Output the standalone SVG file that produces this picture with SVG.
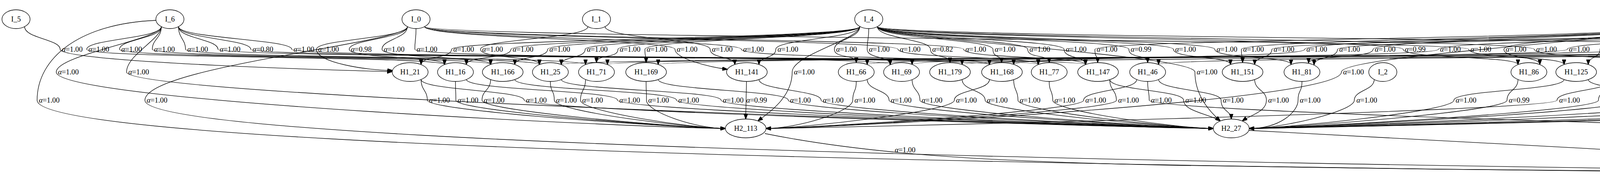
<svg xmlns="http://www.w3.org/2000/svg" width="6007" height="475" viewBox="0 0 6007 475">
<style>
.n ellipse,.n rect{fill:#fff;stroke:#000;stroke-width:1.33}
.n path{fill:none;stroke:#000;stroke-width:1.33}
text{font-family:"Liberation Serif","Times New Roman",serif;font-size:18.67px;text-anchor:middle;fill:#000}
.e path{fill:none;stroke:#000;stroke-width:1.33;marker-end:url(#ah)}
.a{font-style:italic}
</style>
<defs>
<marker id="ah" markerUnits="userSpaceOnUse" markerWidth="14" markerHeight="10" viewBox="0 0 14 10" refX="13" refY="5" orient="auto"><path d="M0,0 L14,5 L0,10 z" fill="#000" stroke="#000" stroke-width="1"/></marker>
</defs>
<rect x="0" y="0" width="6007" height="475" fill="#fff"/>
<g id="connectors" class="e">
<path d="M63,68 C63,98 154,100 154,126 C154,160 940,182 1004,183"/>
<path d="M413,68 C413,98 222,100 222,126 C222,150 1138,143 1138,165"/>
<path d="M413,68 C413,98 306,100 306,126 C306,150 1256,143 1256,165"/>
<path d="M413,68 C413,98 390,100 390,126 C390,150 1381,143 1381,165"/>
<path d="M457,68 C457,98 475,100 475,126 C475,150 1499,143 1499,165"/>
<path d="M457,68 C457,98 558,100 558,126 C558,150 2533,143 2533,165"/>
<path d="M457,68 C457,98 642,100 642,126 C642,150 2658,143 2658,165"/>
<path d="M457,68 C457,98 747,100 747,126 C747,150 2779,143 2779,165"/>
<path d="M1043,68 C1043,98 810,100 810,126 C810,160 940,180 1005,180"/>
<path d="M1043,68 C1043,98 894,100 894,126 C894,150 1138,143 1138,165"/>
<path d="M1043,68 C1043,98 978,100 978,126 C978,150 1256,143 1256,165"/>
<path d="M1065,73 C1065,103 1062,100 1062,126 C1062,150 2279,143 2279,165"/>
<path d="M2201,68 C2201,98 1156,100 1156,126 C1156,150 1078,143 1078,165"/>
<path d="M1505,68 C1505,98 1230,100 1230,126 C1230,150 1381,143 1381,165"/>
<path d="M2201,68 C2201,98 1308,100 1308,126 C1308,150 1194,143 1194,165"/>
<path d="M2201,68 C2201,98 1402,100 1402,126 C1402,150 1318,143 1318,165"/>
<path d="M2201,68 C2201,98 1498,100 1498,126 C1498,150 1437,143 1437,165"/>
<path d="M2201,68 C2201,98 1582,100 1582,126 C1582,150 1527,138 1527,160"/>
<path d="M2201,68 C2201,98 1651,100 1651,126 C1651,150 1654,138 1654,160"/>
<path d="M1087,68 C1087,98 1728,100 1728,126 C1728,150 1820,172 1862,177"/>
<path d="M1549,68 C1549,98 1818,100 1818,126 C1818,150 1881,143 1881,165"/>
<path d="M1087,68 C1087,98 1898,100 1898,126 C1898,150 2533,143 2533,165"/>
<path d="M2201,68 C2201,98 1986,100 1986,126 C1986,150 1943,143 1943,165"/>
<path d="M2201,68 C2201,98 2136,100 2136,126 C2136,150 2192,138 2192,160"/>
<path d="M2224,73 C2224,103 2220,100 2220,126 C2220,150 2279,143 2279,165"/>
<path d="M1087,68 C1087,98 2299,100 2299,126 C2299,150 2658,143 2658,165"/>
<path d="M2246,68 C2246,98 2382,100 2382,126 C2382,150 2432,138 2432,160"/>
<path d="M1087,68 C1087,98 2467,100 2467,126 C2467,150 2779,143 2779,165"/>
<path d="M2246,68 C2246,98 2542,100 2542,126 C2542,150 2564,138 2564,160"/>
<path d="M2246,68 C2246,98 2631,100 2631,126 C2631,150 2686,138 2686,160"/>
<path d="M2246,68 C2246,98 2724,100 2724,126 C2724,150 2779,143 2779,165"/>
<path d="M4251,68 C4251,98 2803,100 2803,126 C2803,150 2810,138 2810,160"/>
<path d="M2246,68 C2246,98 2890,100 2890,126 C2890,150 2938,138 2938,160"/>
<path d="M2246,68 C2246,98 3004,100 3004,126 C3004,150 3150,143 3150,165"/>
<path d="M2246,68 C2246,98 3110,100 3110,126 C3110,150 3305,143 3305,165"/>
<path d="M4251,68 C4251,98 3178,100 3178,126 C3178,150 3181,138 3181,160"/>
<path d="M4746,68 C4746,98 3256,100 3256,126 C3256,150 3212,143 3212,165"/>
<path d="M4251,68 C4251,98 3340,100 3340,126 C3340,150 2595,143 2595,165"/>
<path d="M4746,68 C4746,98 3424,100 3424,126 C3424,150 3364,144 3364,166"/>
<path d="M4251,68 C4251,98 3515,100 3515,126 C3515,150 3350,140 3350,161"/>
<path d="M2246,68 C2246,98 3592,100 3592,126 C3592,150 3886,143 3886,165"/>
<path d="M4746,68 C4746,98 3682,100 3682,126 C3682,150 2335,143 2335,165"/>
<path d="M1087,68 C1087,98 3760,100 3760,126 C3760,150 4004,143 4004,165"/>
<path d="M4251,68 C4251,98 3850,100 3850,126 C3850,150 3942,143 3942,165"/>
<path d="M2246,68 C2246,98 3928,100 3928,126 C3928,150 4247,143 4247,165"/>
<path d="M4746,68 C4746,98 4012,100 4012,126 C4012,150 2220,143 2220,165"/>
<path d="M4251,68 C4251,98 4096,100 4096,126 C4096,150 4066,143 4066,165"/>
<path d="M4746,68 C4746,98 4180,100 4180,126 C4180,150 1555,143 1555,165"/>
<path d="M4273,73 C4273,103 4254,100 4254,126 C4254,150 4180,141 4180,163"/>
<path d="M4746,68 C4746,98 4348,100 4348,126 C4348,150 4309,143 4309,165"/>
<path d="M4295,68 C4295,98 4415,100 4415,126 C4415,150 4399,138 4399,160"/>
<path d="M4746,68 C4746,98 4550,100 4550,126 C4550,150 1437,143 1437,165"/>
<path d="M4746,68 C4746,98 4639,100 4639,126 C4639,150 1685,143 1685,165"/>
<path d="M2246,68 C2246,98 4708,100 4708,126 C4708,150 4726,138 4726,160"/>
<path d="M4768,73 C4768,103 4780,100 4780,126 C4780,150 2966,143 2966,165"/>
<path d="M4790,68 C4790,98 4842,100 4842,126 C4842,150 2463,143 2463,165"/>
<path d="M4790,68 C4790,98 4952,100 4952,126 C4952,150 4192,145 4192,167"/>
<path d="M4790,68 C4790,98 5040,100 5040,126 C5040,160 4520,178 4446,180"/>
<path d="M4790,68 C4790,98 5116,100 5116,126 C5116,160 4850,182 4779,182"/>
<path d="M4295,68 C4295,98 5196,100 5196,126 C5196,150 5231,138 5231,160"/>
<path d="M4790,68 C4790,98 5285,100 5285,126 C5285,150 5259,143 5259,165"/>
<path d="M4790,68 C4790,98 5351,100 5351,126 C5351,150 5348,138 5348,160"/>
<path d="M4790,68 C4790,98 5435,100 5435,126 C5435,150 5473,138 5473,160"/>
<path d="M4790,68 C4790,98 5523,100 5523,126 C5523,175 5483,205 5483,237"/>
<path d="M4790,68 C4790,98 5594,100 5594,126 C5594,175 5590,200 5590,233"/>
<path d="M4790,68 C4790,98 5668,100 5668,126 C5668,175 5695,200 5695,232"/>
<path d="M4790,68 C4790,98 5750,100 5750,126 C5750,175 5802,200 5802,232"/>
<path d="M413,68 C413,100 144,140 144,184 C144,260 1700,328 1857,328"/>
<path d="M413,68 C413,100 324,140 324,184 C324,250 2950,328 3106,328"/>
<path d="M2201,68 C2201,100 2028,140 2028,184 C2028,250 1965,290 1940,309"/>
<path d="M2246,68 C2246,100 3059,140 3059,184 C3059,250 3105,292 3124,309"/>
<path d="M4251,68 C4251,100 3434,140 3434,184 C3434,260 2100,328 1961,328"/>
<path d="M400,52 C200,60 95,150 95,256 C95,420 4900,445 5171,445"/>
<path d="M1043,68 C1043,110 371,170 371,256 C371,400 4900,440 5171,441"/>
<path d="M1078,203 C1078,231 1094,230 1094,256 C1094,285 1777,328 1857,328"/>
<path d="M1166,208 C1166,236 1167,230 1167,256 C1167,285 1777,328 1857,328"/>
<path d="M1256,203 C1256,231 1234,230 1234,256 C1234,285 1777,328 1857,328"/>
<path d="M1078,203 C1078,231 1342,230 1342,256 C1342,285 3026,328 3106,328"/>
<path d="M1409,208 C1409,236 1419,230 1419,256 C1419,285 1777,328 1857,328"/>
<path d="M1499,203 C1499,231 1486,230 1486,256 C1486,285 1777,328 1857,328"/>
<path d="M1194,203 C1194,231 1581,230 1581,256 C1581,285 3026,328 3106,328"/>
<path d="M1654,208 C1654,236 1655,230 1655,256 C1655,285 1777,328 1857,328"/>
<path d="M1318,203 C1318,231 1732,230 1732,256 C1732,285 3026,328 3106,328"/>
<path d="M1437,203 C1437,231 1846,230 1846,256 C1846,285 3026,328 3106,328"/>
<path d="M1911,208 L1909,304"/>
<path d="M1685,203 C1685,231 2018,230 2018,256 C2018,285 3026,328 3106,328"/>
<path d="M1943,203 C1943,231 2102,230 2102,256 C2102,285 3026,328 3106,328"/>
<path d="M2192,208 C2192,236 2183,230 2183,256 C2183,285 2041,328 1961,328"/>
<path d="M2220,203 C2220,231 2276,230 2276,256 C2276,285 3026,328 3106,328"/>
<path d="M2335,203 C2335,231 2355,230 2355,256 C2355,285 3026,328 3106,328"/>
<path d="M2533,203 C2533,231 2443,230 2443,256 C2443,285 2041,328 1961,328"/>
<path d="M2463,203 C2463,231 2522,230 2522,256 C2522,285 3026,328 3106,328"/>
<path d="M2595,203 C2595,231 2606,230 2606,256 C2606,285 3026,328 3106,328"/>
<path d="M2686,208 C2686,236 2695,230 2695,256 C2695,285 3026,328 3106,328"/>
<path d="M2910,203 C2910,231 2774,230 2774,256 C2774,285 2041,328 1961,328"/>
<path d="M2841,203 C2841,231 2858,230 2858,256 C2858,285 2041,328 1961,328"/>
<path d="M2938,208 C2938,236 2942,230 2942,256 C2942,285 4585,328 4665,328"/>
<path d="M2841,203 C2841,231 3030,230 3030,256 C3030,285 3100,292 3124,309"/>
<path d="M2966,203 C2966,231 3126,230 3126,256 C3126,285 3152,282 3152,304"/>
<path d="M3212,203 C3212,231 3242,230 3242,256 C3242,285 3205,292 3180,309"/>
<path d="M3333,208 C3333,236 3323,230 3323,256 C3323,285 3278,328 3198,328"/>
<path d="M3518,203 C3518,231 3467,230 3467,256 C3467,285 3278,328 3198,328"/>
<path d="M4004,203 C4004,231 3722,230 3722,256 C3722,285 3278,328 3198,328"/>
<path d="M3886,203 C3886,231 3858,230 3858,256 C3858,285 3278,328 3198,328"/>
<path d="M4129,203 C4129,231 3986,230 3986,256 C3986,285 2041,328 1961,328"/>
<path d="M4129,203 C4129,231 4092,230 4092,256 C4092,285 3278,328 3198,328"/>
<path d="M4247,203 C4247,231 4175,230 4175,256 C4175,285 3278,328 3198,328"/>
<path d="M4066,203 C4066,231 4311,230 4311,256 C4311,285 4585,328 4665,328"/>
<path d="M4399,208 C4399,236 4390,230 4390,256 C4390,285 3278,328 3198,328"/>
<path d="M4695,203 C4695,231 4606,230 4606,256 C4606,285 3278,328 3198,328"/>
<path d="M5203,203 C5203,231 4952,230 4952,256 C4952,285 3278,328 3198,328"/>
<path d="M5320,203 C5320,231 5167,230 5167,256 C5167,285 3278,328 3198,328"/>
<path d="M5231,208 L5231,304"/>
<path d="M5442,203 C5442,231 5339,230 5339,256 C5339,285 3278,328 3198,328"/>
<path d="M4790,68 C4790,100 5876,120 5876,256 C5876,380 5400,447 5289,446"/>
<path d="M5430,279 C5391,315 5320,370 5262,422"/>
<path d="M5543,275 C5530,295 5515,305 5515,328 C5515,370 5350,420 5283,432"/>
<path d="M5662,275 C5650,295 5639,310 5639,328 C5639,390 5400,435 5288,438"/>
<path d="M5776,275 C5765,295 5760,310 5760,328 C5760,400 5420,443 5289,443"/>
<path d="M1958,341 C2250,400 2600,414 3000,422 C3800,436 4900,445 5171,446"/>
<path d="M3197,333 C3800,360 4700,420 5172,441"/>
<path d="M4753,340 L5174,434"/>
<path d="M5231,352 L5231,421"/>
<path d="M5953,352 C5930,385 5915,400 5870,410 C5750,428 5450,446 5289,449"/>
</g>
<g id="edge-labels">
<text x="185" y="132"><tspan class="a">α</tspan>=1.00</text>
<text x="253" y="132"><tspan class="a">α</tspan>=1.00</text>
<text x="337" y="132"><tspan class="a">α</tspan>=1.00</text>
<text x="421" y="132"><tspan class="a">α</tspan>=1.00</text>
<text x="506" y="132"><tspan class="a">α</tspan>=1.00</text>
<text x="589" y="132"><tspan class="a">α</tspan>=1.00</text>
<text x="673" y="132"><tspan class="a">α</tspan>=0.80</text>
<text x="778" y="132"><tspan class="a">α</tspan>=1.00</text>
<text x="841" y="132"><tspan class="a">α</tspan>=1.00</text>
<text x="925" y="132"><tspan class="a">α</tspan>=0.98</text>
<text x="1009" y="132"><tspan class="a">α</tspan>=1.00</text>
<text x="1093" y="132"><tspan class="a">α</tspan>=1.00</text>
<text x="1187" y="132"><tspan class="a">α</tspan>=1.00</text>
<text x="1261" y="132"><tspan class="a">α</tspan>=1.00</text>
<text x="1339" y="132"><tspan class="a">α</tspan>=1.00</text>
<text x="1433" y="132"><tspan class="a">α</tspan>=1.00</text>
<text x="1529" y="132"><tspan class="a">α</tspan>=1.00</text>
<text x="1613" y="132"><tspan class="a">α</tspan>=1.00</text>
<text x="1682" y="132"><tspan class="a">α</tspan>=1.00</text>
<text x="1759" y="132"><tspan class="a">α</tspan>=1.00</text>
<text x="1849" y="132"><tspan class="a">α</tspan>=1.00</text>
<text x="1929" y="132"><tspan class="a">α</tspan>=1.00</text>
<text x="2017" y="132"><tspan class="a">α</tspan>=1.00</text>
<text x="2167" y="132"><tspan class="a">α</tspan>=1.00</text>
<text x="2251" y="132"><tspan class="a">α</tspan>=1.00</text>
<text x="2330" y="132"><tspan class="a">α</tspan>=1.00</text>
<text x="2413" y="132"><tspan class="a">α</tspan>=0.82</text>
<text x="2498" y="132"><tspan class="a">α</tspan>=1.00</text>
<text x="2573" y="132"><tspan class="a">α</tspan>=1.00</text>
<text x="2662" y="132"><tspan class="a">α</tspan>=1.00</text>
<text x="2755" y="132"><tspan class="a">α</tspan>=1.00</text>
<text x="2834" y="132"><tspan class="a">α</tspan>=1.00</text>
<text x="2921" y="132"><tspan class="a">α</tspan>=0.99</text>
<text x="3035" y="132"><tspan class="a">α</tspan>=1.00</text>
<text x="3141" y="132"><tspan class="a">α</tspan>=1.00</text>
<text x="3209" y="132"><tspan class="a">α</tspan>=1.00</text>
<text x="3287" y="132"><tspan class="a">α</tspan>=1.00</text>
<text x="3371" y="132"><tspan class="a">α</tspan>=1.00</text>
<text x="3455" y="132"><tspan class="a">α</tspan>=1.00</text>
<text x="3546" y="132"><tspan class="a">α</tspan>=1.00</text>
<text x="3623" y="132"><tspan class="a">α</tspan>=0.99</text>
<text x="3713" y="132"><tspan class="a">α</tspan>=1.00</text>
<text x="3791" y="132"><tspan class="a">α</tspan>=1.00</text>
<text x="3881" y="132"><tspan class="a">α</tspan>=1.00</text>
<text x="3959" y="132"><tspan class="a">α</tspan>=1.00</text>
<text x="4043" y="132"><tspan class="a">α</tspan>=1.00</text>
<text x="4127" y="132"><tspan class="a">α</tspan>=1.00</text>
<text x="4211" y="132"><tspan class="a">α</tspan>=1.00</text>
<text x="4285" y="132"><tspan class="a">α</tspan>=1.00</text>
<text x="4379" y="132"><tspan class="a">α</tspan>=1.00</text>
<text x="4446" y="132"><tspan class="a">α</tspan>=1.00</text>
<text x="4581" y="132"><tspan class="a">α</tspan>=1.00</text>
<text x="4670" y="132"><tspan class="a">α</tspan>=1.00</text>
<text x="4739" y="132"><tspan class="a">α</tspan>=1.00</text>
<text x="4811" y="132"><tspan class="a">α</tspan>=1.00</text>
<text x="4873" y="132"><tspan class="a">α</tspan>=1.00</text>
<text x="4984" y="132"><tspan class="a">α</tspan>=1.00</text>
<text x="5071" y="132"><tspan class="a">α</tspan>=1.00</text>
<text x="5147" y="132"><tspan class="a">α</tspan>=1.00</text>
<text x="5227" y="132"><tspan class="a">α</tspan>=1.00</text>
<text x="5316" y="132"><tspan class="a">α</tspan>=1.00</text>
<text x="5382" y="132"><tspan class="a">α</tspan>=1.00</text>
<text x="5466" y="132"><tspan class="a">α</tspan>=0.99</text>
<text x="5554" y="132"><tspan class="a">α</tspan>=1.00</text>
<text x="5625" y="132"><tspan class="a">α</tspan>=0.74</text>
<text x="5699" y="132"><tspan class="a">α</tspan>=1.00</text>
<text x="5781" y="132"><tspan class="a">α</tspan>=0.98</text>
<text x="175" y="190"><tspan class="a">α</tspan>=1.00</text>
<text x="355" y="190"><tspan class="a">α</tspan>=1.00</text>
<text x="2059" y="190"><tspan class="a">α</tspan>=1.00</text>
<text x="3090" y="190"><tspan class="a">α</tspan>=1.00</text>
<text x="3465" y="190"><tspan class="a">α</tspan>=1.00</text>
<text x="126" y="262"><tspan class="a">α</tspan>=1.00</text>
<text x="402" y="262"><tspan class="a">α</tspan>=1.00</text>
<text x="1125" y="262"><tspan class="a">α</tspan>=1.00</text>
<text x="1198" y="262"><tspan class="a">α</tspan>=1.00</text>
<text x="1265" y="262"><tspan class="a">α</tspan>=1.00</text>
<text x="1373" y="262"><tspan class="a">α</tspan>=1.00</text>
<text x="1450" y="262"><tspan class="a">α</tspan>=1.00</text>
<text x="1517" y="262"><tspan class="a">α</tspan>=1.00</text>
<text x="1612" y="262"><tspan class="a">α</tspan>=1.00</text>
<text x="1686" y="262"><tspan class="a">α</tspan>=1.00</text>
<text x="1763" y="262"><tspan class="a">α</tspan>=1.00</text>
<text x="1877" y="262"><tspan class="a">α</tspan>=1.00</text>
<text x="1937" y="262"><tspan class="a">α</tspan>=0.99</text>
<text x="2049" y="262"><tspan class="a">α</tspan>=1.00</text>
<text x="2133" y="262"><tspan class="a">α</tspan>=1.00</text>
<text x="2214" y="262"><tspan class="a">α</tspan>=1.00</text>
<text x="2307" y="262"><tspan class="a">α</tspan>=1.00</text>
<text x="2386" y="262"><tspan class="a">α</tspan>=1.00</text>
<text x="2474" y="262"><tspan class="a">α</tspan>=1.00</text>
<text x="2553" y="262"><tspan class="a">α</tspan>=1.00</text>
<text x="2637" y="262"><tspan class="a">α</tspan>=1.00</text>
<text x="2726" y="262"><tspan class="a">α</tspan>=1.00</text>
<text x="2805" y="262"><tspan class="a">α</tspan>=1.00</text>
<text x="2889" y="262"><tspan class="a">α</tspan>=1.00</text>
<text x="2973" y="262"><tspan class="a">α</tspan>=1.00</text>
<text x="3061" y="262"><tspan class="a">α</tspan>=1.00</text>
<text x="3157" y="262"><tspan class="a">α</tspan>=1.00</text>
<text x="3273" y="262"><tspan class="a">α</tspan>=1.00</text>
<text x="3354" y="262"><tspan class="a">α</tspan>=1.00</text>
<text x="3499" y="262"><tspan class="a">α</tspan>=1.00</text>
<text x="3753" y="262"><tspan class="a">α</tspan>=1.00</text>
<text x="3889" y="262"><tspan class="a">α</tspan>=0.99</text>
<text x="4018" y="262"><tspan class="a">α</tspan>=1.00</text>
<text x="4123" y="262"><tspan class="a">α</tspan>=1.00</text>
<text x="4206" y="262"><tspan class="a">α</tspan>=1.00</text>
<text x="4342" y="262"><tspan class="a">α</tspan>=1.00</text>
<text x="4421" y="262"><tspan class="a">α</tspan>=1.00</text>
<text x="4637" y="262"><tspan class="a">α</tspan>=1.00</text>
<text x="4984" y="262"><tspan class="a">α</tspan>=1.00</text>
<text x="5198" y="262"><tspan class="a">α</tspan>=1.00</text>
<text x="5257" y="262"><tspan class="a">α</tspan>=0.93</text>
<text x="5370" y="262"><tspan class="a">α</tspan>=1.00</text>
<text x="5907" y="262"><tspan class="a">α</tspan>=1.00</text>
<text x="5422" y="334"><tspan class="a">α</tspan>=0.95</text>
<text x="5546" y="334"><tspan class="a">α</tspan>=1.00</text>
<text x="5670" y="334"><tspan class="a">α</tspan>=1.00</text>
<text x="5791" y="334"><tspan class="a">α</tspan>=1.00</text>
<text x="2317" y="389"><tspan class="a">α</tspan>=1.00</text>
<text x="4341" y="392"><tspan class="a">α</tspan>=1.00</text>
<text x="5027" y="392"><tspan class="a">α</tspan>=1.00</text>
<text x="5257" y="392"><tspan class="a">α</tspan>=1.00</text>
<text x="5959" y="392"><tspan class="a">α</tspan>=1.00</text>
</g>
<g id="I_5" class="n"><ellipse cx="41" cy="49" rx="36" ry="24"/><text x="41" y="55">I_5</text></g>
<g id="I_6" class="n"><ellipse cx="435" cy="49" rx="36" ry="24"/><text x="435" y="55">I_6</text></g>
<g id="I_0" class="n"><ellipse cx="1065" cy="49" rx="36" ry="24"/><text x="1065" y="55">I_0</text></g>
<g id="I_1" class="n"><ellipse cx="1527" cy="49" rx="36" ry="24"/><text x="1527" y="55">I_1</text></g>
<g id="I_4" class="n"><ellipse cx="2224" cy="49" rx="36" ry="24"/><text x="2224" y="55">I_4</text></g>
<g id="I_7" class="n"><ellipse cx="4273" cy="49" rx="36" ry="24"/><text x="4273" y="55">I_7</text></g>
<g id="I_3" class="n"><ellipse cx="4768" cy="49" rx="36" ry="24"/><text x="4768" y="55">I_3</text></g>
<g id="all_paths" class="n"><rect x="4828" y="5" width="88" height="88" style="stroke:#444"/><path d="M4828,20 L4843,5 M4901,5 L4916,20 M4828,78 L4843,93 M4901,93 L4916,78" style="stroke:#444"/><text x="4872" y="55">All paths</text></g>
<g id="H1_21" class="n"><ellipse cx="1050" cy="184" rx="46" ry="24"/><text x="1050" y="190">H1_21</text></g>
<g id="H1_16" class="n"><ellipse cx="1166" cy="184" rx="46" ry="24"/><text x="1166" y="190">H1_16</text></g>
<g id="H1_166" class="n"><ellipse cx="1287" cy="184" rx="52" ry="24"/><text x="1287" y="190">H1_166</text></g>
<g id="H1_25" class="n"><ellipse cx="1409" cy="184" rx="46" ry="24"/><text x="1409" y="190">H1_25</text></g>
<g id="H1_71" class="n"><ellipse cx="1527" cy="184" rx="46" ry="24"/><text x="1527" y="190">H1_71</text></g>
<g id="H1_169" class="n"><ellipse cx="1654" cy="184" rx="52" ry="24"/><text x="1654" y="190">H1_169</text></g>
<g id="H1_141" class="n"><ellipse cx="1912" cy="184" rx="52" ry="24"/><text x="1912" y="190">H1_141</text></g>
<g id="H1_66" class="n"><ellipse cx="2192" cy="184" rx="46" ry="24"/><text x="2192" y="190">H1_66</text></g>
<g id="H1_69" class="n"><ellipse cx="2308" cy="184" rx="46" ry="24"/><text x="2308" y="190">H1_69</text></g>
<g id="H1_179" class="n"><ellipse cx="2432" cy="184" rx="52" ry="24"/><text x="2432" y="190">H1_179</text></g>
<g id="H1_168" class="n"><ellipse cx="2565" cy="184" rx="52" ry="24"/><text x="2565" y="190">H1_168</text></g>
<g id="H1_77" class="n"><ellipse cx="2686" cy="184" rx="46" ry="24"/><text x="2686" y="190">H1_77</text></g>
<g id="H1_147" class="n"><ellipse cx="2811" cy="184" rx="52" ry="24"/><text x="2811" y="190">H1_147</text></g>
<g id="H1_46" class="n"><ellipse cx="2938" cy="184" rx="46" ry="24"/><text x="2938" y="190">H1_46</text></g>
<g id="H1_151" class="n"><ellipse cx="3181" cy="184" rx="52" ry="24"/><text x="3181" y="190">H1_151</text></g>
<g id="H1_81" class="n"><ellipse cx="3333" cy="184" rx="46" ry="24"/><text x="3333" y="190">H1_81</text></g>
<g id="I_2" class="n"><ellipse cx="3540" cy="184" rx="36" ry="24"/><text x="3540" y="190">I_2</text></g>
<g id="H1_86" class="n"><ellipse cx="3914" cy="184" rx="46" ry="24"/><text x="3914" y="190">H1_86</text></g>
<g id="H1_125" class="n"><ellipse cx="4035" cy="184" rx="52" ry="24"/><text x="4035" y="190">H1_125</text></g>
<g id="H1_57" class="n"><ellipse cx="4157" cy="184" rx="46" ry="24"/><text x="4157" y="190">H1_57</text></g>
<g id="H1_130" class="n"><ellipse cx="4279" cy="184" rx="52" ry="24"/><text x="4279" y="190">H1_130</text></g>
<g id="H1_13" class="n"><ellipse cx="4400" cy="184" rx="46" ry="24"/><text x="4400" y="190">H1_13</text></g>
<g id="H1_167" class="n"><ellipse cx="4726" cy="184" rx="52" ry="24"/><text x="4726" y="190">H1_167</text></g>
<g id="H1_35" class="n"><ellipse cx="5231" cy="184" rx="46" ry="24"/><text x="5231" y="190">H1_35</text></g>
<g id="H1_95" class="n"><ellipse cx="5349" cy="184" rx="46" ry="24"/><text x="5349" y="190">H1_95</text></g>
<g id="H1_149" class="n"><ellipse cx="5475" cy="184" rx="52" ry="24"/><text x="5475" y="190">H1_149</text></g>
<g id="H2_72" class="n"><ellipse cx="5455" cy="256" rx="46" ry="24"/><text x="5455" y="262">H2_72</text></g>
<g id="H2_130" class="n"><ellipse cx="5574" cy="256" rx="52" ry="24"/><text x="5574" y="262">H2_130</text></g>
<g id="H2_155" class="n"><ellipse cx="5693" cy="256" rx="52" ry="24"/><text x="5693" y="262">H2_155</text></g>
<g id="H2_177" class="n"><ellipse cx="5807" cy="256" rx="52" ry="24"/><text x="5807" y="262">H2_177</text></g>
<g id="H2_113" class="n"><ellipse cx="1909" cy="328" rx="52" ry="24"/><text x="1909" y="334">H2_113</text></g>
<g id="H2_27" class="n"><ellipse cx="3152" cy="328" rx="46" ry="24"/><text x="3152" y="334">H2_27</text></g>
<g id="H2_67" class="n"><ellipse cx="4711" cy="328" rx="46" ry="24"/><text x="4711" y="334">H2_67</text></g>
<g id="H2_144" class="n"><ellipse cx="5231" cy="328" rx="52" ry="24"/><text x="5231" y="334">H2_144</text></g>
<g id="I_8" class="n"><ellipse cx="5965" cy="328" rx="37" ry="24"/><text x="5965" y="334">I_8</text></g>
<g id="Output_0" class="n"><ellipse cx="5230" cy="445" rx="59" ry="24"/><text x="5230" y="451">Output_0</text></g>
</svg>
